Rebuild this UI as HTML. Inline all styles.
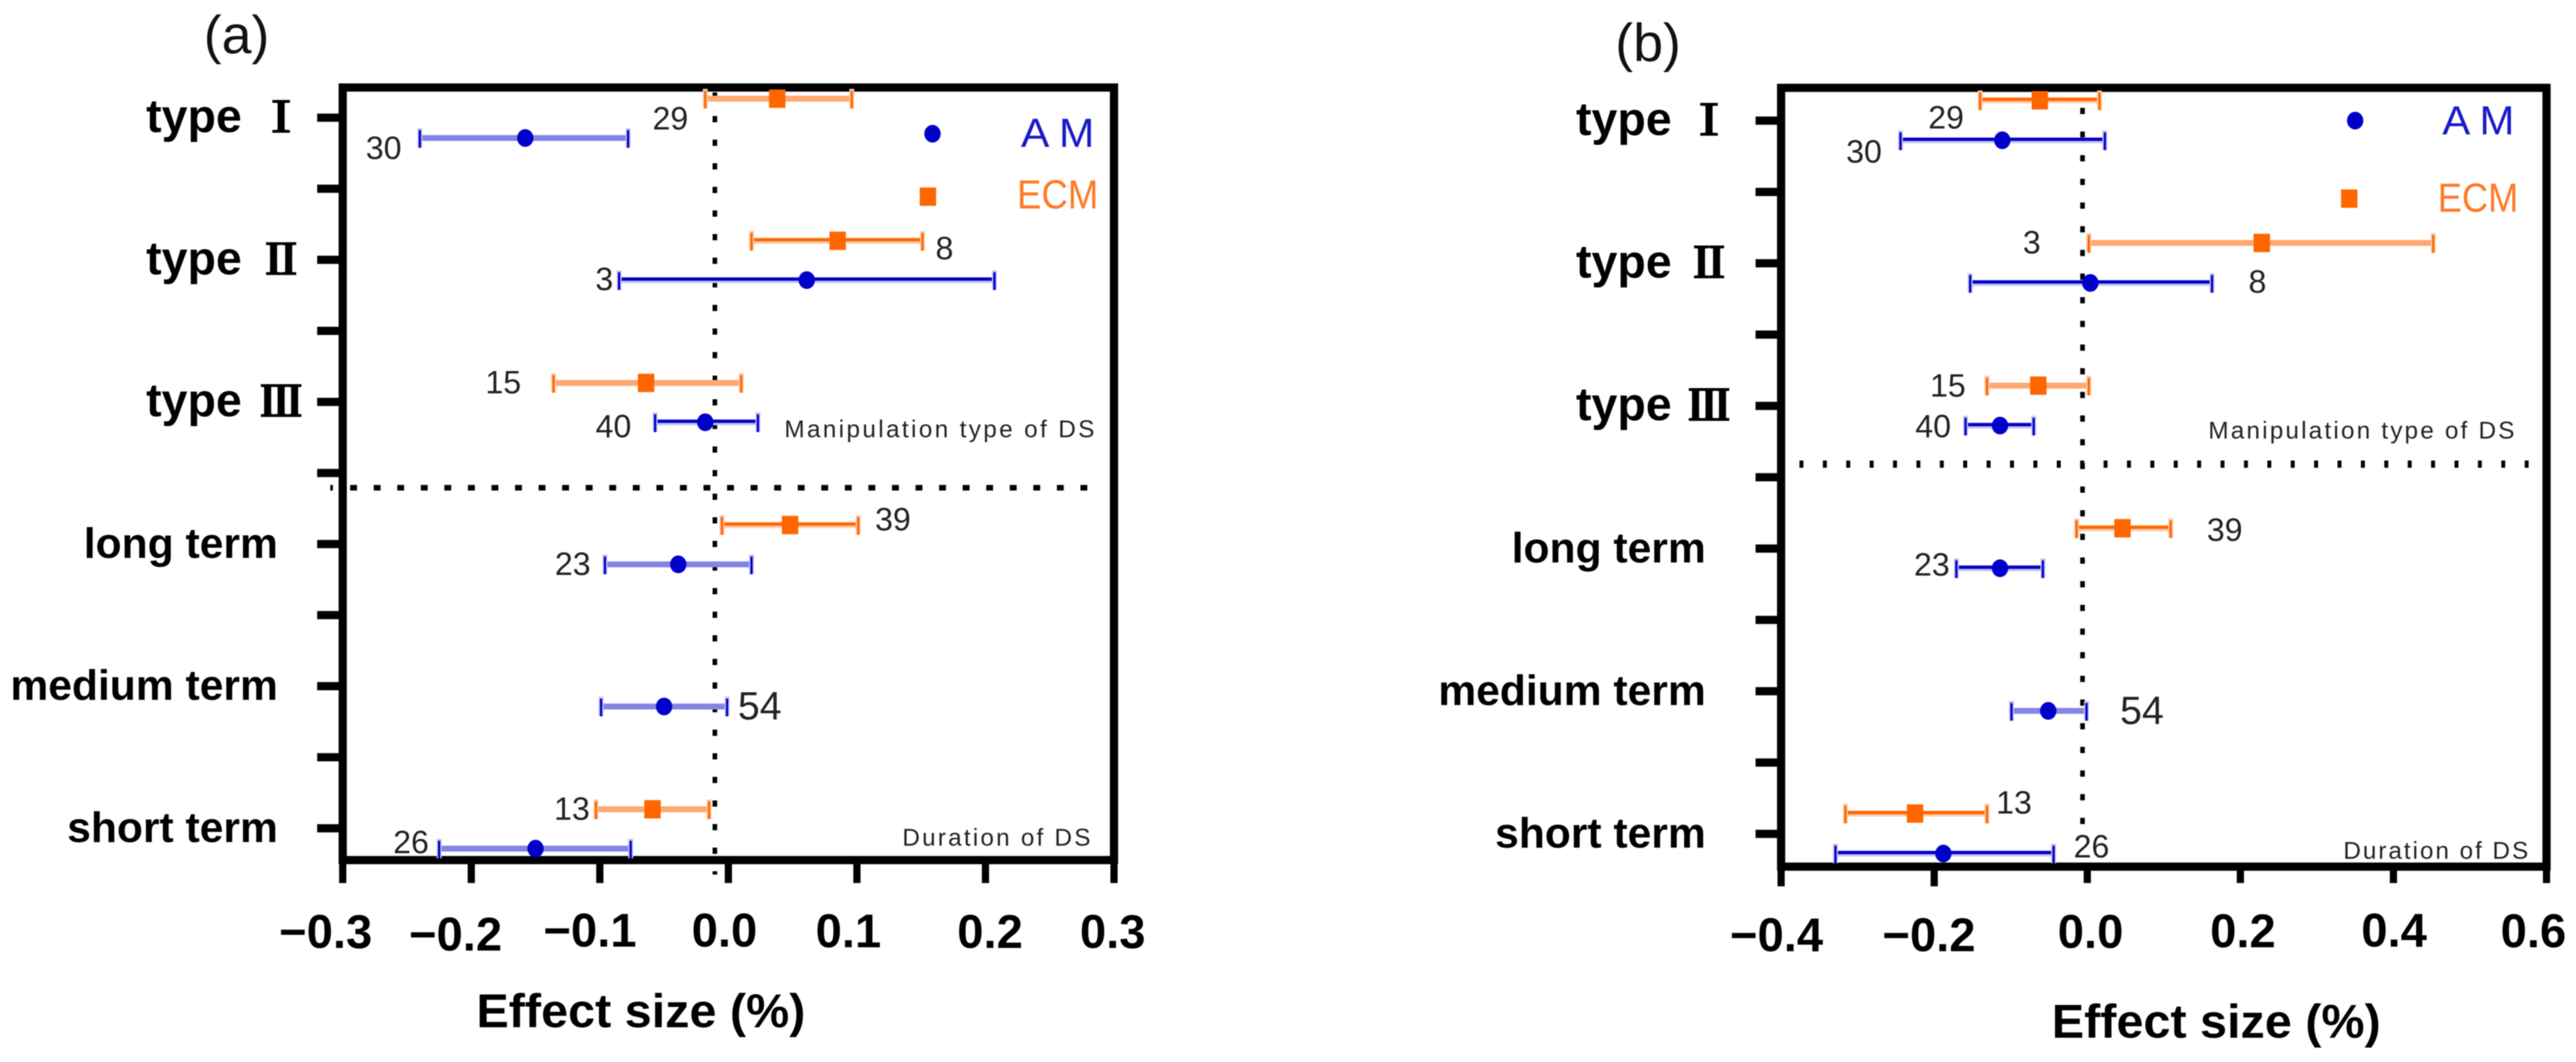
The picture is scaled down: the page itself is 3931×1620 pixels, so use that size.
<!DOCTYPE html>
<html lang="en">
<head>
<meta charset="utf-8">
<title>Effect size forest plots</title>
<style>
html,body{margin:0;padding:0;background:#fff;}
svg{display:block;filter:blur(0.8px);}
text{font-family:"Liberation Sans","Noto Sans CJK SC",sans-serif;}
</style>
</head>
<body>
<svg id="figure" xmlns="http://www.w3.org/2000/svg" width="3931" height="1620" viewBox="0 0 3931 1620"></svg>
<script>
// ---- chart data ----
const categories = ['type', 'type', 'type', 'long term', 'medium term', 'short term'];
const romanNumerals = ['Ⅰ', 'Ⅱ', 'Ⅲ', '', '', ''];

const ticksA = [-0.3, -0.2, -0.1, 0.0, 0.1, 0.2, 0.3];
const tickLabelsA = ['−0.3', '−0.2', '−0.1', '0.0', '0.1', '0.2', '0.3'];
const ticksB = [-0.4, -0.2, 0.0, 0.2, 0.4, 0.6];
const tickLabelsB = ['−0.4', '−0.2', '0.0', '0.2', '0.4', '0.6'];

const amMeanA = [-0.158, 0.061, -0.018, -0.039, -0.050, -0.150];
const amLowA = [-0.240, -0.085, -0.057, -0.096, -0.099, -0.225];
const amHighA = [-0.078, 0.207, 0.023, 0.018, -0.001, -0.076];
const amCountA = [30, 3, 40, 23, 54, 26];

const ecmMeanA = [0.038, 0.085, -0.064, 0.048, null, -0.059];
const ecmLowA = [-0.018, 0.018, -0.136, -0.005, null, -0.103];
const ecmHighA = [0.096, 0.151, 0.010, 0.101, null, -0.015];
const ecmCountA = [29, 8, 15, 39, null, 13];

const amMeanB = [-0.111, 0.004, -0.114, -0.114, -0.051, -0.188];
const amLowB = [-0.244, -0.153, -0.159, -0.171, -0.099, -0.329];
const amHighB = [0.023, 0.163, -0.070, -0.058, -0.001, -0.044];
const amCountB = [30, 8, 40, 23, 54, 26];

const ecmMeanB = [-0.062, 0.228, -0.064, 0.046, null, -0.225];
const ecmLowB = [-0.140, 0.002, -0.131, -0.014, null, -0.316];
const ecmHighB = [0.016, 0.452, 0.002, 0.109, null, -0.131];
const ecmCountB = [29, 3, 15, 39, null, 13];

// ---- layout (not data) ----
const BLUE = '#0000c8';
const ORANGE = '#ff6600';
const panels = [
  {
    id: 'a', left: 523, right: 1700, top: 133.5, bottom: 1312, xMin: -0.3, xMax: 0.3,
    rowTop: 179.5, rowStep: 216.8, dodgeEcm: -29, dodgeAm: 31,
    ticks: ticksA, tickLabels: tickLabelsA,
    tickShift: [-26, -24, -15, -6, -13, 7, -2],
    tickBase: [1446, 1450, 1444, 1444, 1445, 1446, 1446],
    tickBottom: [1347, 1347, 1347, 1347, 1347, 1347, 1347],
    am: { mean: amMeanA, lo: amLowA, hi: amHighA, n: amCountA,
      dx: [-216, -309, -140, -161, 146, -190], dy: [63, 46, 54, 47, 51, 38],
      soft: [true, false, false, true, true, true] },
    ecm: { mean: ecmMeanA, lo: ecmLowA, hi: ecmHighA, n: ecmCountA,
      dx: [-163, 163, -218, 157, 0, -123], dy: [18, -1, -13, -21, 0, -13],
      soft: [true, false, true, false, false, true] },
    refValue: -0.0105, refTop: 141, refBottom: 1334, refPeriod: 36,
    sepY: 744, sepX1: 534.3, sepX2: 1661, sepW: 10.5, sepH: 8.5, sepPeriod: 35.95, sepStub: [504, 4],
    typeX: 223, numeralX: 429, termEnd: 424,
    title: '(a)', titleX: 361, titleY: 81,
    axisTitleX: 727, axisTitleY: 1567,
    noteTop: { x: 1197, y: 667, w: 473 }, noteBottom: { x: 1377, y: 1290, w: 287 },
    legAmDot: [1423, 204], legAmText: [1558, 224, 112],
    legEcmDot: [1416, 300], legEcmText: [1552, 318, 124]
  },
  {
    id: 'b', left: 2718, right: 3886, top: 134, bottom: 1322, xMin: -0.4, xMax: 0.6,
    rowTop: 184, rowStep: 217.6, dodgeEcm: -31, dodgeAm: 30,
    ticks: ticksB, tickLabels: tickLabelsB,
    tickShift: [-7, -8, 5, 4, 1, -20],
    tickBase: [1451, 1451, 1446, 1445, 1444, 1445],
    tickBottom: [1352, 1352, 1347, 1347, 1347, 1347],
    am: { mean: amMeanB, lo: amLowB, hi: amHighB, n: amCountB,
      dx: [-211, 255, -102, -104, 143, 226], dy: [64, 45, 48, 41, 50, 36],
      soft: [false, false, false, false, true, false] },
    ecm: { mean: ecmMeanB, lo: ecmLowB, hi: ecmHighB, n: ecmCountB,
      dx: [-143, -351, -138, 156, 0, 151], dy: [12, -15, -14, -12, 0, -31],
      soft: [false, true, true, false, false, false] },
    refValue: -0.0062, refTop: 164.5, refBottom: 1258, refPeriod: 36.1,
    sepY: 708, sepX1: 2746, sepX2: 3860, sepW: 6, sepH: 11, sepPeriod: 35.7, sepStub: null,
    typeX: 2405, numeralX: 2608, termEnd: 2603,
    title: '(b)', titleX: 2515, titleY: 93,
    axisTitleX: 3131, axisTitleY: 1583,
    noteTop: { x: 3370, y: 669, w: 467 }, noteBottom: { x: 3576, y: 1310, w: 282 },
    legAmDot: [3594, 184], legAmText: [3727, 205, 110],
    legEcmDot: [3585, 303], legEcmText: [3720, 323, 123]
  }
];

// ---- drawing ----
const NS = 'http://www.w3.org/2000/svg';
const figure = document.getElementById('figure');

function svgEl(tag, attrs, parent, content) {
  const node = document.createElementNS(NS, tag);
  for (const key in attrs) node.setAttribute(key, attrs[key]);
  if (content !== undefined) node.textContent = content;
  parent.appendChild(node);
  return node;
}

function drawCircle(cx, cy, parent) {
  return svgEl('ellipse', { cx: cx, cy: cy, rx: 12.5, ry: 13.5, fill: BLUE }, parent);
}

function drawSquare(cx, cy, parent) {
  return svgEl('rect', { x: cx - 12.5, y: cy - 14, width: 25, height: 28, fill: ORANGE }, parent);
}

function drawSeries(series, seriesName, color, pale, light, dodge, xScale, rowY, group) {
  series.mean.forEach(function (meanValue, i) {
    if (meanValue === null) return;
    const y = rowY(i) + dodge;
    const x1 = xScale(series.lo[i]);
    const x2 = xScale(series.hi[i]);
    const row = svgEl('g', {}, group);
    
    

    const halo = svgEl('line', { x1: x1, x2: x2, y1: y, y2: y, stroke: series.soft[i] ? pale : light, 'stroke-width': 9 }, row);
    
    

    if (!series.soft[i]) {
      const bar = svgEl('line', { x1: x1, x2: x2, y1: y - 1.5, y2: y - 1.5, stroke: color, 'stroke-width': 5 }, row);
      
      
    }

    [x1, x2].forEach(function (capX) {
      const capHalo = svgEl('line', { x1: capX, x2: capX, y1: y - 15, y2: y + 15, stroke: light, 'stroke-width': 7.5 }, row);
      
      

      const cap = svgEl('line', { x1: capX, x2: capX, y1: y - 12, y2: y + 15, stroke: color, 'stroke-width': 3.5 }, row);
      
      
    });

    const meanX = xScale(meanValue);
    const marker = seriesName === 'am' ? drawCircle(meanX, y, row) : drawSquare(meanX, y, row);
    
    

    const count = svgEl('text', {
      x: meanX + series.dx[i], y: rowY(i) + series.dy[i], 'text-anchor': 'middle',
      'font-size': series.n[i] === 54 ? 60 : 49, fill: '#222'
    }, row, String(series.n[i]));
    
    
  });
}

panels.forEach(function (p) {
  const panel = svgEl('g', {}, figure);
  
  

  const xScale = function (v) { return p.left + (v - p.xMin) / (p.xMax - p.xMin) * (p.right - p.left); };
  const rowY = function (i) { return p.rowTop + i * p.rowStep; };

  const title = svgEl('text', { x: p.titleX, y: p.titleY, 'text-anchor': 'middle', 'font-size': 82, fill: '#111' }, panel, p.title);
  
  

  const frame = svgEl('rect', { x: p.left, y: p.top, width: p.right - p.left, height: p.bottom - p.top, fill: 'none', stroke: '#000', 'stroke-width': 12.5 }, panel);
  
  

  // y ticks (major at categories, minor halfway)
  for (let k = 0; k <= 10; k++) {
    const yTick = svgEl('rect', { x: p.left - 39, y: rowY(k / 2) - 6.25, width: 39, height: 12.5, fill: '#000' }, panel);
    
    
  }

  categories.forEach(function (name, i) {
    const isType = romanNumerals[i] !== '';
    const baseline = rowY(i) + (isType ? 22 : 21);
    const label = svgEl('text', {
      x: isType ? p.typeX : p.termEnd, y: baseline,
      'text-anchor': isType ? 'start' : 'end',
      'font-size': isType ? 71 : 65, 'font-weight': 'bold', fill: '#000'
    }, panel, name);
    
    
    if (isType) {
      const numeral = svgEl('text', {
        x: p.numeralX, y: baseline, 'text-anchor': 'middle', 'font-size': 64, 'font-weight': 'bold',
        fill: '#000', stroke: '#000', 'stroke-width': 2,
        style: 'font-family:"Noto Serif CJK SC","Liberation Serif",serif'
      }, panel, romanNumerals[i]);
      
      
    }
  });

  // x ticks
  p.ticks.forEach(function (v, i) {
    const x = xScale(v);
    const xTick = svgEl('rect', { x: x - 5.5, y: p.bottom, width: 11, height: p.tickBottom[i] - p.bottom, fill: '#000' }, panel);
    
    
    const xLabel = svgEl('text', {
      x: x + p.tickShift[i], y: p.tickBase[i], 'text-anchor': 'middle', 'font-size': 72, 'font-weight': 'bold', fill: '#000'
    }, panel, p.tickLabels[i]);
    
    
  });

  const axisTitle = svgEl('text', {
    x: p.axisTitleX, y: p.axisTitleY, 'font-size': 72, 'font-weight': 'bold', fill: '#000',
    textLength: 502, lengthAdjust: 'spacingAndGlyphs'
  }, panel, 'Effect size (%)');
  
  

  // dotted reference lines
  const refLine = svgEl('line', {
    x1: xScale(p.refValue), x2: xScale(p.refValue), y1: p.refTop, y2: p.refBottom,
    stroke: '#000', 'stroke-width': 7, 'stroke-dasharray': '9.5 ' + (p.refPeriod - 9.5)
  }, panel);
  
  

  const sepLine = svgEl('line', {
    x1: p.sepX1, x2: p.sepX2, y1: p.sepY, y2: p.sepY,
    stroke: '#000', 'stroke-width': p.sepH, 'stroke-dasharray': p.sepW + ' ' + (p.sepPeriod - p.sepW)
  }, panel);
  
  

  if (p.sepStub) {
    const stub = svgEl('rect', { x: p.sepStub[0], y: p.sepY - p.sepH / 2, width: p.sepStub[1], height: p.sepH, fill: '#000' }, panel);
    
    
  }

  // series
  const ecmGroup = svgEl('g', {}, panel);
  
  
  drawSeries(p.ecm, 'ecm', ORANGE, '#ffa872', '#ffc9a8', p.dodgeEcm, xScale, rowY, ecmGroup);

  const amGroup = svgEl('g', {}, panel);
  
  
  drawSeries(p.am, 'am', BLUE, '#8484e4', '#c4c4f0', p.dodgeAm, xScale, rowY, amGroup);

  // annotations
  const noteTop = svgEl('text', {
    x: p.noteTop.x, y: p.noteTop.y, 'font-size': 37, fill: '#222', textLength: p.noteTop.w, lengthAdjust: 'spacing'
  }, panel, 'Manipulation type of DS');
  
  

  const noteBottom = svgEl('text', {
    x: p.noteBottom.x, y: p.noteBottom.y, 'font-size': 37, fill: '#222', textLength: p.noteBottom.w, lengthAdjust: 'spacing'
  }, panel, 'Duration of DS');
  
  

  // legend
  const legend = svgEl('g', {}, panel);
  
  

  const amKey = drawCircle(p.legAmDot[0], p.legAmDot[1], legend);
  
  

  const amText = svgEl('text', {
    x: p.legAmText[0], y: p.legAmText[1], 'font-size': 62, fill: '#1a1ac8',
    textLength: p.legAmText[2], lengthAdjust: 'spacingAndGlyphs'
  }, legend, 'A M');
  
  

  const ecmKey = drawSquare(p.legEcmDot[0], p.legEcmDot[1], legend);
  
  

  const ecmText = svgEl('text', {
    x: p.legEcmText[0], y: p.legEcmText[1], 'font-size': 62, fill: '#ff7a26',
    textLength: p.legEcmText[2], lengthAdjust: 'spacingAndGlyphs'
  }, legend, 'ECM');
  
  
});
</script>
</body>
</html>
